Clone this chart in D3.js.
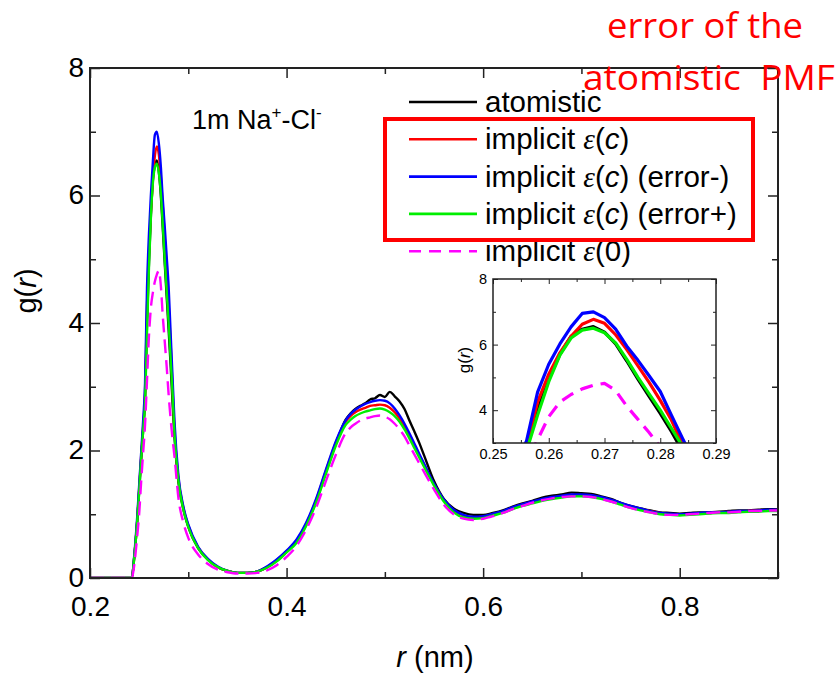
<!DOCTYPE html>
<html><head><meta charset="utf-8">
<script src="https://cdn.jsdelivr.net/npm/d3@7"></script>
<style>
html,body{margin:0;padding:0;background:#fff;}
svg{display:block;}
</style>
</head><body>
<svg id="c" width="840" height="675" font-family="'Liberation Sans',Arial,Helvetica,sans-serif"></svg>
<script>
// ---------------- data ----------------
const rValues = [
  0.200,0.240,0.2425,0.245,0.248,0.250,0.252,0.254,0.256,0.258,0.260,0.262,0.264,0.266,0.268,0.270,0.272,0.274,0.276,0.278,0.280,0.282,0.284,0.286,
  0.290,0.295,0.300,0.310,0.320,0.330,0.340,0.350,0.360,0.370,0.380,0.390,0.400,0.410,0.420,0.430,0.440,0.450,
  0.460,0.465,0.470,0.475,0.480,0.485,0.490,0.495,0.500,0.505,0.510,0.515,0.520,0.525,0.530,0.535,0.540,0.550,0.560,0.570,0.580,0.590,0.600,
  0.61,0.62,0.63,0.64,0.65,0.66,0.67,0.68,0.69,0.70,0.71,0.72,0.73,0.74,0.75,0.76,0.77,0.78,0.79,0.80,0.81,0.82,0.83,0.84,0.85,0.86,0.87,0.88,0.89,0.90
];
const gAtomistic = [
  0,0,0,0.32,0.88,1.35,1.85,2.3,2.8,4.0,4.95,5.7,6.25,6.47,6.55,6.38,6.02,5.50,4.95,4.42,3.90,3.35,2.75,2.2,
  1.5,1.08,0.8,0.47,0.29,0.17,0.11,0.08,0.08,0.1,0.17,0.27,0.41,0.57,0.84,1.2,1.66,2.1,
  2.48,2.58,2.65,2.7,2.74,2.8,2.82,2.87,2.84,2.92,2.85,2.77,2.65,2.47,2.3,2.12,1.92,1.52,1.24,1.09,1.02,0.99,0.99,
  1.02,1.06,1.12,1.17,1.21,1.26,1.29,1.31,1.34,1.33,1.32,1.28,1.24,1.18,1.13,1.09,1.06,1.03,1.02,1.01,1.02,1.03,1.03,1.04,1.05,1.06,1.06,1.07,1.08,1.08
];
const gImplicitC = [
  0,0,0,0.33,0.9,1.4,1.9,2.35,2.9,4.25,5.1,5.75,6.25,6.62,6.77,6.65,6.3,5.85,5.35,4.85,4.3,3.7,2.95,2.3,
  1.55,1.1,0.82,0.48,0.29,0.17,0.11,0.08,0.08,0.1,0.17,0.28,0.42,0.58,0.85,1.22,1.68,2.12,
  2.45,2.54,2.6,2.64,2.67,2.7,2.71,2.72,2.71,2.67,2.6,2.5,2.38,2.23,2.07,1.92,1.77,1.47,1.22,1.06,0.98,0.95,0.96,
  1.0,1.04,1.1,1.15,1.19,1.23,1.26,1.28,1.3,1.3,1.29,1.26,1.22,1.17,1.12,1.08,1.05,1.02,1.0,1.0,1.0,1.01,1.02,1.03,1.04,1.04,1.05,1.06,1.06,1.07
];
const gImplicitErrMinus = [
  0,0,0,0.35,0.95,1.45,1.95,2.45,3.05,4.55,5.4,6.02,6.54,6.95,7.0,6.82,6.47,5.95,5.52,5.05,4.57,3.85,3.14,2.45,
  1.6,1.12,0.84,0.49,0.3,0.18,0.11,0.08,0.08,0.1,0.18,0.29,0.43,0.6,0.87,1.24,1.7,2.14,
  2.47,2.57,2.64,2.69,2.73,2.76,2.78,2.79,2.78,2.74,2.66,2.55,2.42,2.27,2.11,1.95,1.79,1.48,1.23,1.07,0.99,0.96,0.97,
  1.01,1.05,1.11,1.16,1.2,1.24,1.27,1.29,1.31,1.31,1.3,1.27,1.23,1.18,1.13,1.09,1.05,1.02,1.01,1.0,1.01,1.02,1.03,1.03,1.04,1.05,1.05,1.06,1.07,1.07
];
const gImplicitErrPlus = [
  0,0,0,0.32,0.88,1.35,1.85,2.3,2.75,3.85,4.87,5.68,6.2,6.44,6.5,6.36,6.05,5.55,5.0,4.5,4.0,3.45,2.9,2.25,
  1.52,1.07,0.8,0.47,0.28,0.17,0.11,0.08,0.08,0.1,0.16,0.26,0.4,0.55,0.82,1.18,1.63,2.07,
  2.4,2.48,2.54,2.58,2.61,2.63,2.65,2.66,2.64,2.6,2.54,2.45,2.33,2.19,2.04,1.89,1.74,1.45,1.2,1.03,0.95,0.93,0.94,
  0.98,1.02,1.08,1.13,1.17,1.21,1.24,1.26,1.28,1.28,1.27,1.24,1.2,1.15,1.1,1.06,1.03,1.0,0.99,0.98,0.99,1.0,1.01,1.02,1.02,1.03,1.04,1.04,1.05,1.05
];
const gImplicit0 = [
  0,0,0,0.2,0.65,1.0,1.5,1.95,2.4,3.1,3.8,4.25,4.48,4.65,4.76,4.82,4.6,4.12,3.72,3.32,2.88,2.5,2.18,1.9,
  1.25,0.87,0.63,0.37,0.22,0.13,0.09,0.07,0.07,0.08,0.12,0.2,0.33,0.5,0.76,1.1,1.52,1.93,
  2.27,2.36,2.42,2.47,2.5,2.52,2.54,2.55,2.53,2.49,2.42,2.33,2.22,2.08,1.94,1.8,1.66,1.39,1.15,1.0,0.93,0.91,0.93,
  0.97,1.02,1.08,1.13,1.18,1.22,1.25,1.27,1.28,1.28,1.27,1.24,1.2,1.15,1.1,1.06,1.03,1.0,0.99,0.99,1.0,1.01,1.02,1.03,1.03,1.04,1.05,1.05,1.06,1.06
];
const seriesNames  = ["atomistic","implicit_c","implicit_c_errminus","implicit_c_errplus","implicit_0"];
const seriesColors = ["#000000","#ff0000","#0000ff","#00ee00","#ff00ff"];
const seriesValues = [gAtomistic,gImplicitC,gImplicitErrMinus,gImplicitErrPlus,gImplicit0];
const seriesDashed = [false,false,false,false,true];

const xMajorTicks = [0.2,0.4,0.6,0.8];
const xMinorTicks = [0.3,0.5,0.7,0.9];
const yMajorTicks = [0,2,4,6,8];
const yMinorTicks = [1,3,5,7];
const insetXMajor = [0.25,0.26,0.27,0.28,0.29];
const insetXMinor = [0.255,0.265,0.275,0.285];
const insetYMajor = [4,6,8];
const insetYMinor = [3,5,7];

// ---------------- chart ----------------
const SANS = "'Liberation Sans',Arial,Helvetica,sans-serif";
const SERIF = "'Liberation Serif','Times New Roman',serif";
const svg = d3.select('#c');
const x = d3.scaleLinear().domain([0.2,0.9]).range([90,778]);
const y = d3.scaleLinear().domain([0,8]).range([578,68]);

const defs = svg.append('defs');
defs.append('clipPath').attr('id','clipMain').append('rect')
  .attr('x',x(0.2)).attr('y',y(8)).attr('width',x(0.9)-x(0.2)).attr('height',y(0)-y(8));

function drawAxes(root, xs, ys, cfg){
  const [x0,x1] = xs.range(), [y0,y1] = ys.range(); // y0 bottom, y1 top
  const mk = (axis, tr, vals, size, fmt, pad, fs, dy) => {
    const g = root.append('g').attr('transform',tr)
      .call(axis.tickValues(vals).tickSize(-size).tickPadding(pad).tickFormat(fmt));
    g.select('.domain').remove();
    g.attr('font-family',SANS).attr('font-size',fs);
    g.selectAll('.tick line').attr('stroke','#222').attr('stroke-width',cfg.tw);
    g.selectAll('text').attr('fill','#000');
    if (dy) g.selectAll('text').attr('dy', dy);
    return g;
  };
  const blank = () => '';
  mk(d3.axisBottom(xs), `translate(0,${y0})`, cfg.xMaj, cfg.maj, cfg.xFmt, cfg.xPad, cfg.fs);
  mk(d3.axisBottom(xs), `translate(0,${y0})`, cfg.xMin, cfg.min, blank, 0, cfg.fs);
  mk(d3.axisTop(xs), `translate(0,${y1})`, cfg.xMaj, cfg.maj, blank, 0, cfg.fs);
  mk(d3.axisTop(xs), `translate(0,${y1})`, cfg.xMin, cfg.min, blank, 0, cfg.fs);
  mk(d3.axisLeft(ys), `translate(${x0},0)`, cfg.yMaj, cfg.maj, cfg.yFmt, cfg.yPad, cfg.fs, cfg.yDy);
  mk(d3.axisLeft(ys), `translate(${x0},0)`, cfg.yMin, cfg.min, blank, 0, cfg.fs);
  mk(d3.axisRight(ys), `translate(${x1},0)`, cfg.yMaj, cfg.maj, blank, 0, cfg.fs);
  mk(d3.axisRight(ys), `translate(${x1},0)`, cfg.yMin, cfg.min, blank, 0, cfg.fs);
  root.append('rect').attr('x',x0).attr('y',y1).attr('width',x1-x0).attr('height',y0-y1)
    .attr('fill','none').attr('stroke','#222').attr('stroke-width',cfg.fw);
}

// main curves
const mainCurves = svg.append('g').attr('clip-path','url(#clipMain)');
const lineMain = d3.line().x((d,i)=>x(rValues[i])).y(d=>y(d)).curve(d3.curveMonotoneX);
seriesValues.forEach((vals,k)=>{
  mainCurves.append('path').datum(vals)
    .attr('d',lineMain).attr('fill','none')
    .attr('stroke',seriesColors[k]).attr('stroke-width',2.4)
    .attr('stroke-linejoin','round')
    .attr('stroke-dasharray',seriesDashed[k]?'14,7':null);
});

drawAxes(svg.append('g'), x, y, {
  xMaj:xMajorTicks, xMin:xMinorTicks, yMaj:yMajorTicks, yMin:yMinorTicks,
  maj:10, min:6, tw:1.5, fw:2, fs:28, xPad:18, yPad:6, yDy:'0.3em',
  xFmt:d3.format('.1f'), yFmt:d3.format('d')
});

// axis titles
svg.append('text').attr('x',435).attr('y',667).attr('text-anchor','middle').attr('font-size',29)
  .call(t=>{t.append('tspan').attr('font-style','italic').text('r');t.append('tspan').text(' (nm)');});
svg.append('text').attr('transform','translate(36,291) rotate(-90)').attr('text-anchor','middle').attr('font-size',29)
  .call(t=>{t.append('tspan').text('g(');t.append('tspan').attr('font-style','italic').text('r');t.append('tspan').text(')');});

// title label
svg.append('text').attr('x',192).attr('y',129).attr('font-size',27)
  .call(t=>{
    t.append('tspan').text('1m Na');
    t.append('tspan').attr('font-size',17).attr('dy',-11).text('+');
    t.append('tspan').attr('dy',11).text('-Cl');
    t.append('tspan').attr('font-size',17).attr('dy',-11).text('-');
  });

// legend
const legendLabels = [
  ['atomistic', null],
  ['implicit ', ''],
  ['implicit ', ' (error-)'],
  ['implicit ', ' (error+)'],
  ['implicit ', '0']
];
const legY0 = 102, legDy = 37.3;
legendLabels.forEach((lab,k)=>{
  const ly = legY0 + k*legDy;
  svg.append('line').attr('x1',409).attr('x2',477).attr('y1',ly).attr('y2',ly)
    .attr('stroke',seriesColors[k]).attr('stroke-width',2.6)
    .attr('stroke-dasharray',seriesDashed[k]?'12,8':null);
  const t = svg.append('text').attr('x',485).attr('y',ly+10).attr('font-size',29.5);
  if(lab[1]===null){ t.text(lab[0]); return; }
  t.append('tspan').text(lab[0]);
  t.append('tspan').attr('font-family',SERIF).attr('font-style','italic').text('ε');
  t.append('tspan').text('(');
  if(k===4){ t.append('tspan').text('0'); }
  else { t.append('tspan').attr('font-style','italic').text('c'); }
  t.append('tspan').text(')');
  if(k!==4 && lab[1]) t.append('tspan').text(lab[1]);
});

// red box
svg.append('rect').attr('x',385).attr('y',119).attr('width',368).attr('height',121)
  .attr('fill','none').attr('stroke','#ff0000').attr('stroke-width',4);

// ---------------- inset ----------------
const xi = d3.scaleLinear().domain([0.25,0.29]).range([493,716]);
const yi = d3.scaleLinear().domain([3,8]).range([443,279]);
const inset = svg.append('g');
inset.append('rect').attr('x',493).attr('y',279).attr('width',223).attr('height',164).attr('fill','#fff');
defs.append('clipPath').attr('id','clipInset').append('rect')
  .attr('x',493).attr('y',279).attr('width',223).attr('height',164);
const insetCurves = inset.append('g').attr('clip-path','url(#clipInset)');
const lineInset = d3.line().x((d,i)=>xi(rValues[i])).y(d=>yi(d));
seriesValues.forEach((vals,k)=>{
  insetCurves.append('path').datum(vals)
    .attr('d',lineInset).attr('fill','none')
    .attr('stroke',seriesColors[k]).attr('stroke-width',3.2)
    .attr('stroke-linejoin','round')
    .attr('stroke-dasharray',seriesDashed[k]?'13,8':null);
});
drawAxes(inset, xi, yi, {
  xMaj:insetXMajor, xMin:insetXMinor, yMaj:insetYMajor, yMin:insetYMinor,
  maj:5, min:3, tw:1, fw:1.5, fs:14.5, xPad:6, yPad:6,
  xFmt:d3.format('.2f'), yFmt:d3.format('d')
});
inset.append('text').attr('transform','translate(470,360) rotate(-90)').attr('text-anchor','middle').attr('font-size',17)
  .call(t=>{t.append('tspan').text('g(');t.append('tspan').attr('font-style','italic').text('r');t.append('tspan').text(')');});

// annotation
svg.append('text').attr('x',607).attr('y',38).attr('font-family',"'Open Sans',sans-serif").attr('font-size',35)
  .attr('fill','#ff0000').attr('textLength',196).attr('lengthAdjust','spacingAndGlyphs').text('error of the');
svg.append('text').attr('x',583).attr('y',90).attr('font-family',"'Open Sans',sans-serif").attr('font-size',35)
  .attr('fill','#ff0000').attr('textLength',252).attr('lengthAdjust','spacingAndGlyphs')
  .style('white-space','pre').text('atomistic  PMF');
</script>
</body></html>
